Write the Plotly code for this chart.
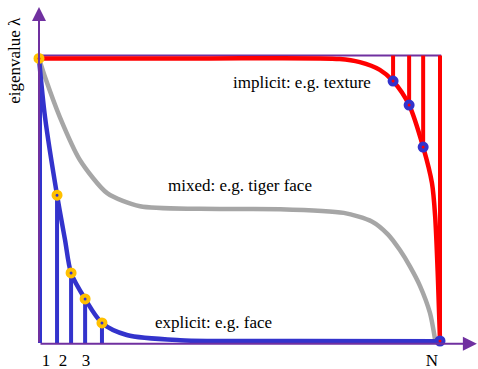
import plotly.graph_objects as go

# Eigenvalue spectra, index normalised so that N = 1, eigenvalue normalised to 1
blue_x = [0.0, 0.015, 0.045, 0.065, 0.080, 0.115, 0.157, 0.219, 0.352, 0.651, 1.0]
blue_y = [0.995, 0.790, 0.517, 0.360, 0.245, 0.154, 0.070, 0.028, 0.010, 0.007, 0.006]

gray_x = [0.0, 0.015, 0.052, 0.102, 0.170, 0.252, 0.40, 0.60, 0.760,
          0.830, 0.870, 0.900, 0.925, 0.950, 0.975, 0.988]
gray_y = [0.995, 0.930, 0.790, 0.640, 0.524, 0.478, 0.469, 0.468, 0.455,
          0.425, 0.380, 0.325, 0.268, 0.200, 0.105, 0.010]

red_x = [0.0, 0.40, 0.75, 0.800, 0.850, 0.883, 0.923, 0.958, 0.980, 0.988, 0.995, 1.0]
red_y = [0.995, 0.995, 0.993, 0.982, 0.955, 0.916, 0.832, 0.685, 0.559, 0.441, 0.220, 0.010]

# Highlighted eigenvalues
blue_pts_x = [0.045, 0.080, 0.115, 0.157]
blue_pts_y = [0.517, 0.245, 0.154, 0.070]
red_pts_x = [0.883, 0.923, 0.958]
red_pts_y = [0.916, 0.832, 0.685]

# Index labels under the axis
tick_x = [0.0175, 0.060, 0.117, 0.980]
tick_text = ["1", "2", "3", "N"]

BLUE = "#3333cc"
RED = "#ff0000"
GRAY = "#a6a6a6"
GOLD = "#ffc000"
PURPLE = "#7030a0"
FONT = "Liberation Serif"

fig = go.Figure()


def stems(xs, y0s, y1s):
    sx, sy = [], []
    for x, a, b in zip(xs, y0s, y1s):
        sx += [x, x, None]
        sy += [a, b, None]
    return sx, sy


# top reference line at lambda = 1
fig.add_trace(go.Scatter(x=[0, 1.003], y=[1.005, 1.005], mode="lines",
                         line=dict(color=PURPLE, width=2), hoverinfo="skip"))

# blue stems: first index plus highlighted eigenvalues
bx, by = stems([0.0025] + blue_pts_x, [0] * 5, [0.995] + blue_pts_y)
fig.add_trace(go.Scatter(x=bx, y=by, mode="lines",
                         line=dict(color=BLUE, width=4), hoverinfo="skip"))

# red stems hanging from the top line
rx, ry = stems(red_pts_x + [1.0], [1.005] * 4, red_pts_y + [0.0])
fig.add_trace(go.Scatter(x=rx, y=ry, mode="lines",
                         line=dict(color=RED, width=4), hoverinfo="skip"))

# spectra
fig.add_trace(go.Scatter(x=gray_x, y=gray_y, mode="lines",
                         line=dict(color=GRAY, width=4.5, shape="spline", smoothing=0.7),
                         hoverinfo="skip"))
fig.add_trace(go.Scatter(x=red_x, y=red_y, mode="lines",
                         line=dict(color=RED, width=4.5, shape="spline", smoothing=0.8),
                         hoverinfo="skip"))
fig.add_trace(go.Scatter(x=blue_x, y=blue_y, mode="lines",
                         line=dict(color=BLUE, width=4.5, shape="spline", smoothing=0.8),
                         hoverinfo="skip"))

# axes with arrow heads
fig.add_annotation(x=1.092, y=-0.003, ax=0, ay=-0.003, xref="x", yref="y",
                   axref="x", ayref="y", showarrow=True, arrowhead=2,
                   arrowsize=1.4, arrowwidth=2, arrowcolor=PURPLE, text="")
fig.add_annotation(x=0, y=1.175, ax=0, ay=-0.003, xref="x", yref="y",
                   axref="x", ayref="y", showarrow=True, arrowhead=2,
                   arrowsize=1.4, arrowwidth=2, arrowcolor=PURPLE, text="")

# markers
fig.add_trace(go.Scatter(x=blue_pts_x, y=blue_pts_y, mode="markers",
                         marker=dict(size=7, color=BLUE, line=dict(color=GOLD, width=4)),
                         hoverinfo="skip"))
fig.add_trace(go.Scatter(x=red_pts_x + [1.0], y=red_pts_y + [0.007], mode="markers",
                         marker=dict(size=7, color=RED, line=dict(color=BLUE, width=4)),
                         hoverinfo="skip"))
fig.add_trace(go.Scatter(x=[0.0], y=[0.995], mode="markers",
                         marker=dict(size=7, color=RED, line=dict(color=GOLD, width=4)),
                         hoverinfo="skip"))

# index labels
fig.add_trace(go.Scatter(x=tick_x, y=[-0.066] * len(tick_x), mode="text",
                         text=tick_text, textposition="middle center",
                         textfont=dict(family=FONT, size=17, color="black"),
                         hoverinfo="skip"))

labels = [
    (0.656, 0.910, "implicit: e.g. texture"),
    (0.501, 0.552, "mixed: e.g. tiger face"),
    (0.434, 0.072, "explicit: e.g. face"),
]
for lx, ly, t in labels:
    fig.add_annotation(x=lx, y=ly, xref="x", yref="y", text=t, showarrow=False,
                       font=dict(family=FONT, size=17, color="black"))

fig.add_annotation(x=-0.060, y=0.99, xref="x", yref="y", text="eigenvalue λ",
                   showarrow=False, textangle=-90,
                   font=dict(family=FONT, size=17, color="black"))

fig.update_layout(
    width=478, height=369,
    margin=dict(l=0, r=0, t=0, b=0),
    paper_bgcolor="white", plot_bgcolor="white",
    showlegend=False,
    xaxis=dict(range=[-39 / 401, 439 / 401], visible=False, fixedrange=True),
    yaxis=dict(range=[-26 / 286, 343 / 286], visible=False, fixedrange=True),
)

fig.write_html("out.html")
